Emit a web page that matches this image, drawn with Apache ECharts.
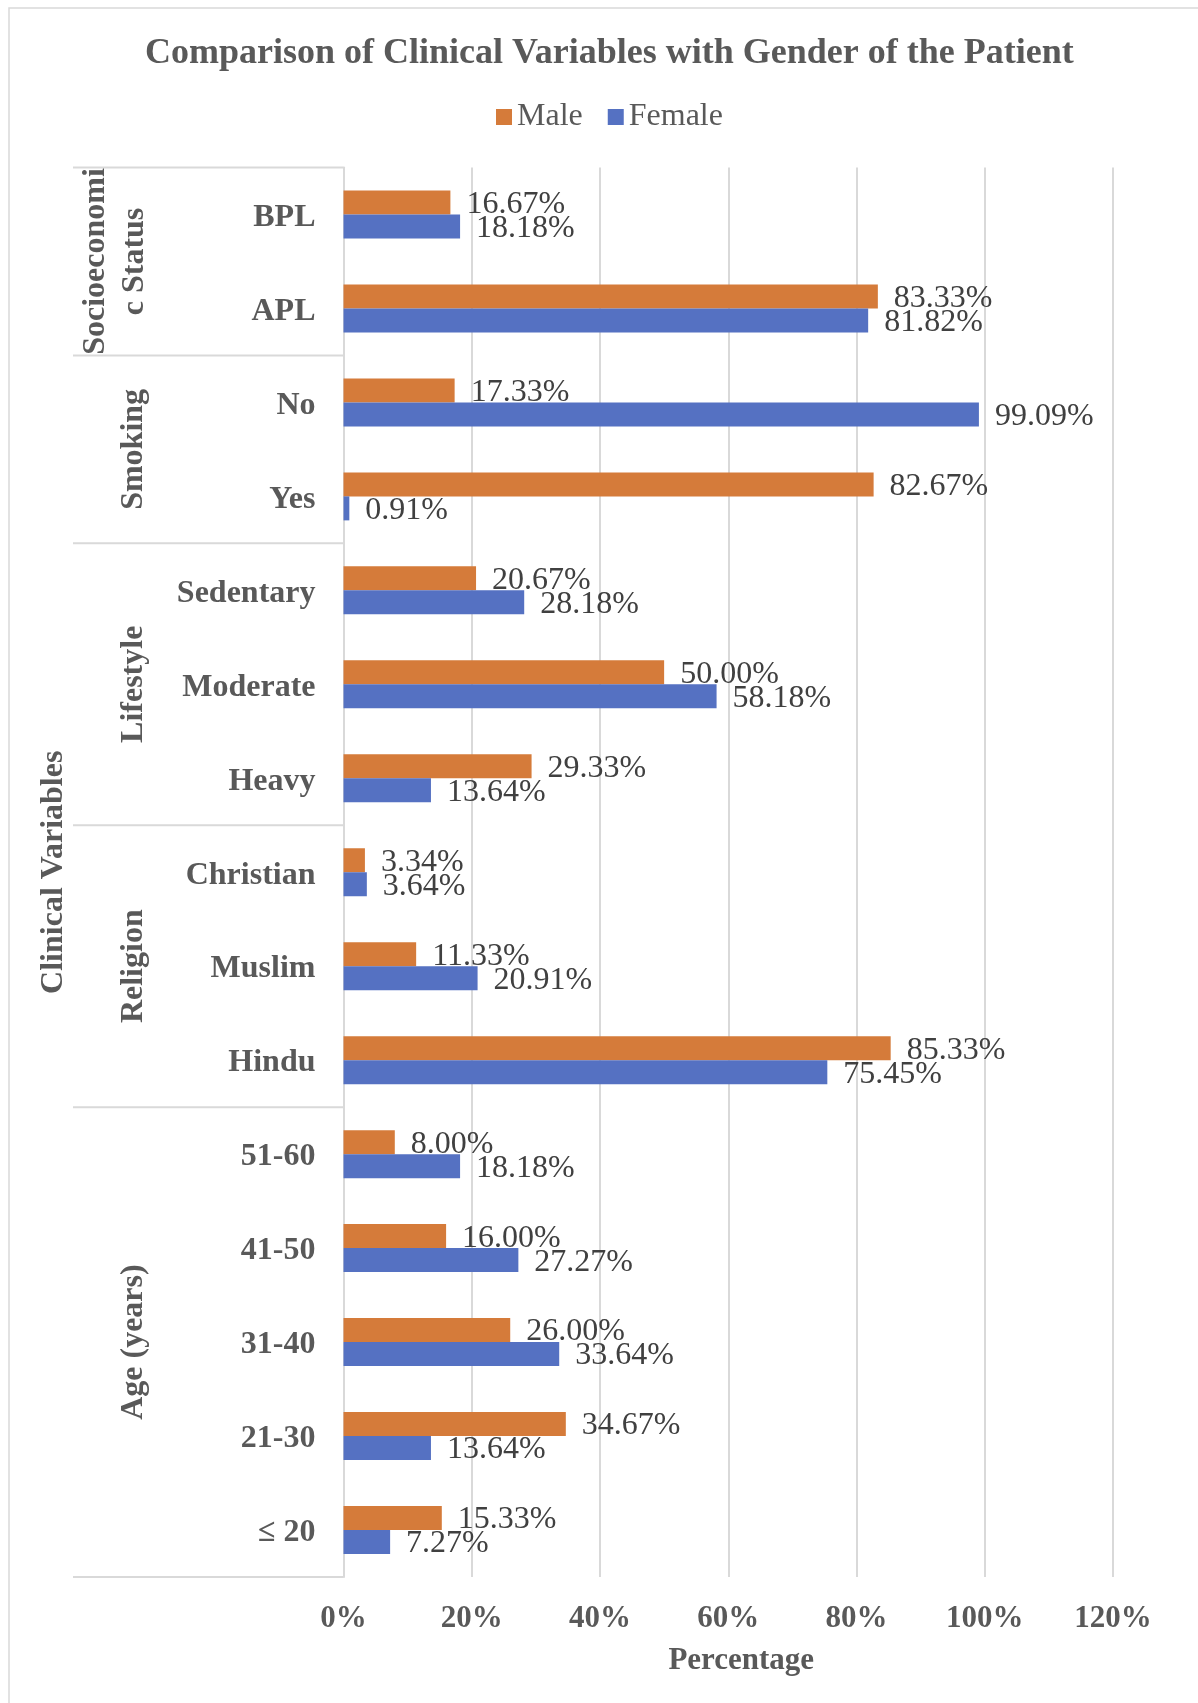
<!DOCTYPE html>
<html>
<head>
<meta charset="utf-8">
<script src="https://cdn.jsdelivr.net/npm/echarts@6/dist/echarts.min.js"></script>
<style>
  html, body { margin: 0; padding: 0; background: #fff; }
  #main { width: 1198px; height: 1703px; }
</style>
</head>
<body>
<div id="main"></div>
<script>
// categories, top to bottom
var categories = ['BPL', 'APL', 'No', 'Yes', 'Sedentary', 'Moderate', 'Heavy',
                  'Christian', 'Muslim', 'Hindu', '51-60', '41-50', '31-40', '21-30', '≤ 20'];
var maleValues = [16.67, 83.33, 17.33, 82.67, 20.67, 50.00, 29.33,
                  3.34, 11.33, 85.33, 8.00, 16.00, 26.00, 34.67, 15.33];
var femaleValues = [18.18, 81.82, 99.09, 0.91, 28.18, 58.18, 13.64,
                    3.64, 20.91, 75.45, 18.18, 27.27, 33.64, 13.64, 7.27];
// outer level of the category axis
var groupNames = ['Socioeconomi\nc Status', 'Smoking', 'Lifestyle', 'Religion', 'Age (years)'];
var groupSizes = [2, 2, 3, 3, 5];

var FONT = '"Liberation Serif", "Times New Roman", serif';
var GRAY = '#595959';
var LINE = '#D9D9D9';

var W = 1198, H = 1703;
var gridLeft = 343.5, gridRight = 85, gridTop = 167.5, gridBottom = 126;

var chart = echarts.init(document.getElementById('main'));

// separators and group names left of the axis
var graphics = [];
graphics.push({
    type: 'rect', z: 0,
    shape: { x: 9, y: 8, width: 1400, height: 1900 },
    style: { fill: 'none', stroke: LINE, lineWidth: 1.5 }
});
var plotH = H - gridTop - gridBottom;
var band = plotH / categories.length;
var start = 0;
graphics.push({
    type: 'line',
    shape: { x1: 73, y1: gridTop, x2: gridLeft, y2: gridTop },
    style: { stroke: LINE, lineWidth: 2 }
});
for (var g = 0; g < groupNames.length; g++) {
    var end = start + groupSizes[g];
    var yEnd = gridTop + end * band;
    graphics.push({
        type: 'line',
        shape: { x1: 73, y1: yEnd, x2: gridLeft, y2: yEnd },
        style: { stroke: LINE, lineWidth: 2 }
    });
    var isTwoLines = groupNames[g].indexOf('\n') >= 0;
    graphics.push({
        type: 'text',
        x: isTwoLines ? 115 : 134,
        y: gridTop + (start + end) / 2 * band,
        rotation: Math.PI / 2,
        style: {
            text: groupNames[g],
            fontFamily: FONT, fontWeight: 'bold', fontSize: 32,
            lineHeight: 39,
            fill: GRAY, align: 'center', verticalAlign: 'middle'
        }
    });
    start = end;
}
graphics.push({
    type: 'text',
    x: 54, y: gridTop + plotH / 2,
    rotation: Math.PI / 2,
    style: {
        text: 'Clinical Variables',
        fontFamily: FONT, fontWeight: 'bold', fontSize: 32,
        fill: GRAY, align: 'center', verticalAlign: 'middle'
    }
});

var labelOpt = {
    show: true,
    position: 'right',
    distance: 16,
    offset: [0, 2],
    fontFamily: FONT,
    fontSize: 32,
    color: '#404040',
    formatter: function (p) { return p.value.toFixed(2) + '%'; }
};

chart.setOption({
    animation: false,
    backgroundColor: '#fff',
    title: {
        text: 'Comparison of Clinical Variables with Gender of the Patient',
        left: 140,
        top: 31,
        textStyle: { fontFamily: FONT, fontWeight: 'bold', fontSize: 36, color: GRAY }
    },
    legend: {
        data: ['Male', 'Female'],
        left: 491,
        top: 96,
        itemWidth: 16,
        itemHeight: 16,
        itemGap: 25,
        icon: 'rect',
        textStyle: { fontFamily: FONT, fontSize: 32, color: GRAY }
    },
    grid: { left: gridLeft, right: gridRight, top: gridTop, bottom: gridBottom },
    xAxis: {
        type: 'value',
        min: 0,
        max: 120,
        interval: 20,
        name: 'Percentage',
        nameLocation: 'middle',
        nameGap: 68,
        nameTextStyle: {
            fontFamily: FONT, fontWeight: 'bold', fontSize: 31, color: GRAY,
            padding: [0, 0, 0, 26]
        },
        axisLine: { show: false },
        axisTick: { show: false },
        axisLabel: {
            formatter: '{value}%',
            margin: 26,
            fontFamily: FONT, fontWeight: 'bold', fontSize: 31, color: GRAY
        },
        splitLine: { lineStyle: { color: LINE, width: 2 } }
    },
    yAxis: {
        type: 'category',
        inverse: true,
        data: categories,
        axisLine: { lineStyle: { color: LINE, width: 2 } },
        axisTick: { show: false },
        axisLabel: {
            margin: 28,
            formatter: '{c|{value}}',
            rich: {
                c: {
                    padding: [6, 0, 0, 0],
                    fontFamily: FONT, fontWeight: 'bold', fontSize: 32, color: GRAY
                }
            }
        }
    },
    series: [
        {
            name: 'Male',
            type: 'bar',
            data: maleValues,
            barWidth: 24,
            barGap: '0%',
            itemStyle: { color: '#D57B3A' },
            label: labelOpt
        },
        {
            name: 'Female',
            type: 'bar',
            data: femaleValues,
            barWidth: 24,
            barGap: '0%',
            itemStyle: { color: '#5571C2' },
            label: labelOpt
        }
    ],
    graphic: graphics
});
</script>
</body>
</html>
